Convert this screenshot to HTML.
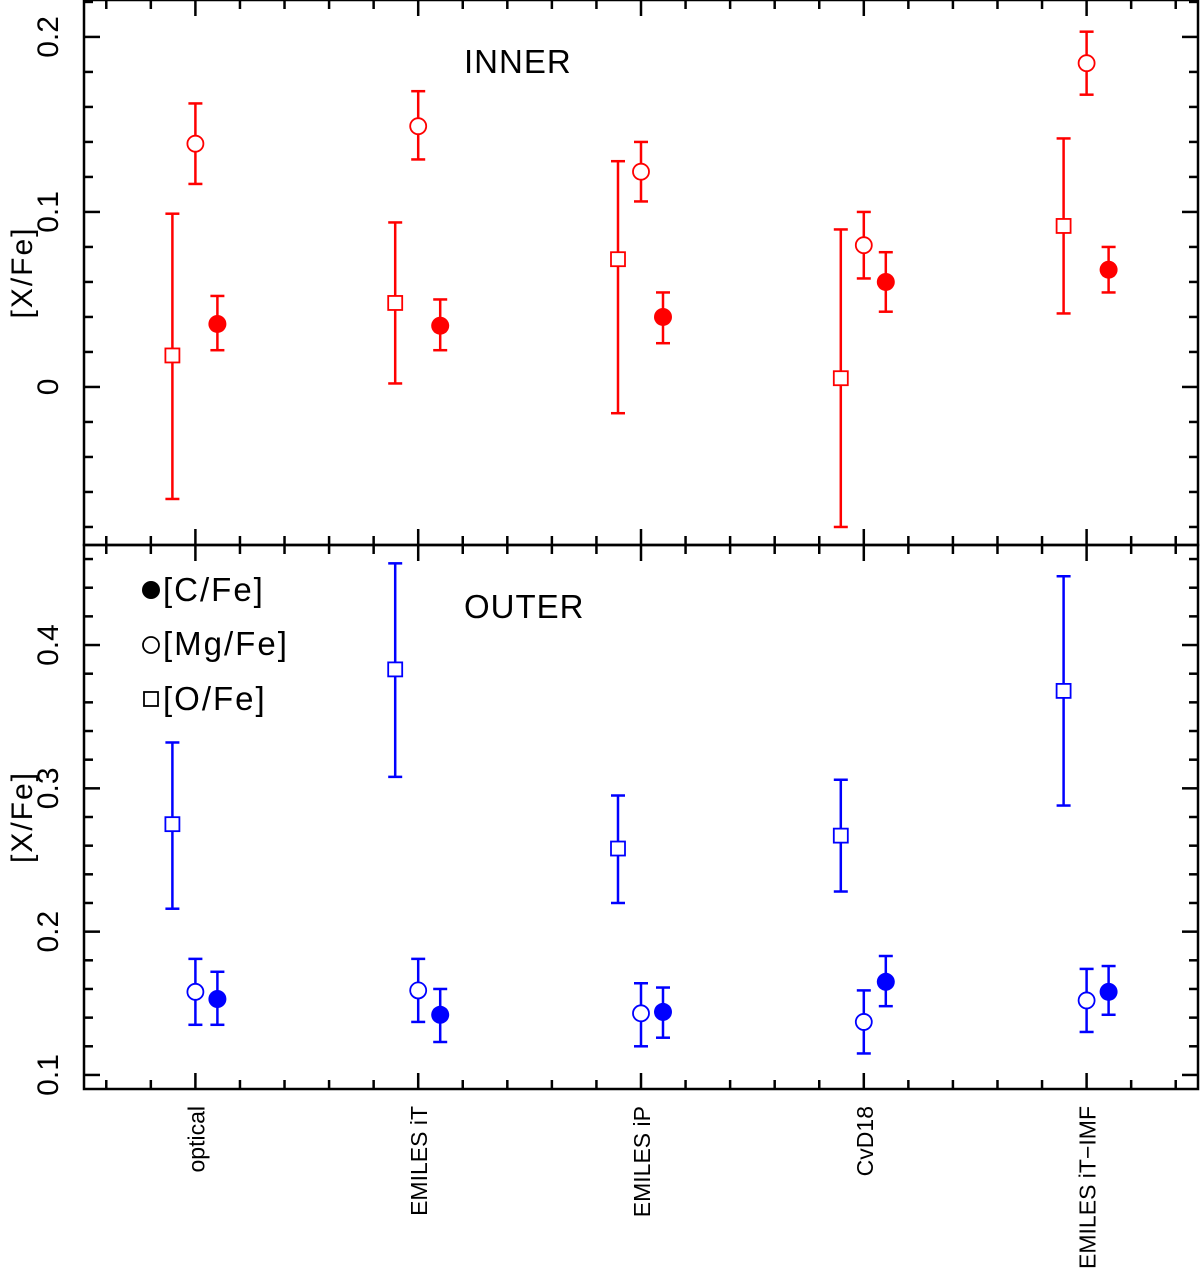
<!DOCTYPE html>
<html><head><meta charset="utf-8"><style>
html,body{margin:0;padding:0;background:#fff;}
svg{display:block;font-family:"Liberation Sans",sans-serif;}
</style></head><body>
<svg id="chart" width="1200" height="1273" viewBox="0 0 1200 1273"></svg>
<script>
const categories=["optical","EMILES iT","EMILES iP","CvD18","EMILES iT−IMF"];
// inner panel
const innerO=[0.018,0.048,0.073,0.005,0.092];
const innerOlo=[-0.064,0.002,-0.015,-0.080,0.042];
const innerOhi=[0.099,0.094,0.129,0.090,0.142];
const innerMg=[0.139,0.149,0.123,0.081,0.185];
const innerMglo=[0.116,0.130,0.106,0.062,0.167];
const innerMghi=[0.162,0.169,0.140,0.100,0.203];
const innerC=[0.036,0.035,0.040,0.060,0.067];
const innerClo=[0.021,0.021,0.025,0.043,0.054];
const innerChi=[0.052,0.050,0.054,0.077,0.080];
// outer panel
const outerO=[0.275,0.383,0.258,0.267,0.368];
const outerOlo=[0.216,0.308,0.220,0.228,0.288];
const outerOhi=[0.332,0.457,0.295,0.306,0.448];
const outerMg=[0.158,0.159,0.143,0.137,0.152];
const outerMglo=[0.135,0.137,0.120,0.115,0.130];
const outerMghi=[0.181,0.181,0.164,0.159,0.174];
const outerC=[0.153,0.142,0.144,0.165,0.158];
const outerClo=[0.135,0.123,0.126,0.148,0.142];
const outerChi=[0.172,0.160,0.161,0.183,0.176];
const innerTicks=["0","0.1","0.2"];
const outerTicks=["0.1","0.2","0.3","0.4"];

const NS="http://www.w3.org/2000/svg";
const svg=document.getElementById('chart');
const L=84,R=1198;
function el(tag,attrs,parent){const e=document.createElementNS(NS,tag);for(const k in attrs)e.setAttribute(k,attrs[k]);(parent||svg).appendChild(e);return e;}
function xs(v){return L+(v-0.5)*(R-L)/5;}
const panels=[
 {name:'inner',top:0,bot:545,ymin:-0.0903,ymax:0.2211,ticks:innerTicks,color:'#ff0000',title:'INNER',
  O:innerO,Olo:innerOlo,Ohi:innerOhi,Mg:innerMg,Mglo:innerMglo,Mghi:innerMghi,C:innerC,Clo:innerClo,Chi:innerChi},
 {name:'outer',top:545,bot:1089,ymin:0.0902,ymax:0.4698,ticks:outerTicks,color:'#0000ff',title:'OUTER',
  O:outerO,Olo:outerOlo,Ohi:outerOhi,Mg:outerMg,Mglo:outerMglo,Mghi:outerMghi,C:outerC,Clo:outerClo,Chi:outerChi}
];
panels.forEach(p=>{
  const ys=v=>p.bot-(v-p.ymin)/(p.ymax-p.ymin)*(p.bot-p.top);
  const g=el('g',{});
  
  
  const fr=el('rect',{x:L,y:p.top,width:R-L,height:p.bot-p.top,fill:'none',stroke:'#000','stroke-width':2.5},g);
  
  
  for(let k=0;k<25;k++){
    const v=0.6+k*0.2;const x=xs(v);
    const major=Math.abs(v-Math.round(v))<1e-6;const len=major?16:9;
    el('line',{x1:x,x2:x,y1:p.bot,y2:p.bot-len,stroke:'#000','stroke-width':2.5},g);
    el('line',{x1:x,x2:x,y1:p.top,y2:p.top+len,stroke:'#000','stroke-width':2.5},g);
  }
  for(let v=Math.ceil(p.ymin/0.02)*0.02;v<=p.ymax;v+=0.02){
    const y=ys(v);const major=Math.abs(v/0.1-Math.round(v/0.1))<1e-6;const len=major?16:9;
    el('line',{x1:L,x2:L+len,y1:y,y2:y,stroke:'#000','stroke-width':2.5},g);
    el('line',{x1:R,x2:R-len,y1:y,y2:y,stroke:'#000','stroke-width':2.5},g);
  }
  p.ticks.forEach(t=>{
    const y=ys(parseFloat(t));
    const tx=el('text',{x:0,y:0,transform:`translate(58,${y}) rotate(-90)`,'text-anchor':'middle','font-size':30},g);
    tx.textContent=t;
    
    
  });
  const yt=el('text',{x:0,y:0,transform:`translate(32,${(p.top+p.bot)/2}) rotate(-90)`,'text-anchor':'middle','font-size':30,'letter-spacing':2},g);
  yt.textContent='[X/Fe]';
  
  
  const tt=el('text',{x:464,y:p.top+73,'font-size':33,'letter-spacing':1},g);
  tt.textContent=p.title;
  
  
  function errbar(x,lo,hi){
    el('line',{x1:x,x2:x,y1:ys(lo),y2:ys(hi),stroke:p.color,'stroke-width':2.5},g);
    el('line',{x1:x-7,x2:x+7,y1:ys(lo),y2:ys(lo),stroke:p.color,'stroke-width':2.5},g);
    el('line',{x1:x-7,x2:x+7,y1:ys(hi),y2:ys(hi),stroke:p.color,'stroke-width':2.5},g);
  }
  categories.forEach((c,i)=>{
    const xc=xs(i+1);
    let x=xc-23; errbar(x,p.Olo[i],p.Ohi[i]);
    const sq=el('rect',{x:x-7,y:ys(p.O[i])-7,width:14,height:14,fill:'#fff',stroke:p.color,'stroke-width':1.8},g);
    
    
    x=xc; errbar(x,p.Mglo[i],p.Mghi[i]);
    const ci=el('circle',{cx:x,cy:ys(p.Mg[i]),r:8,fill:'#fff',stroke:p.color,'stroke-width':1.8},g);
    
    
    x=xc+22; errbar(x,p.Clo[i],p.Chi[i]);
    const fc=el('circle',{cx:x,cy:ys(p.C[i]),r:9,fill:p.color},g);
    
    
  });
});
categories.forEach((c,i)=>{
  const t=el('text',{x:0,y:0,transform:`translate(${xs(i+1)+9},1106) rotate(-90)`,'text-anchor':'end','font-size':23});
  t.textContent=c;
  
  
});
const lg=el('g',{});


el('circle',{cx:151,cy:590,r:9,fill:'#000'},lg);
el('circle',{cx:151,cy:645,r:8,fill:'#fff',stroke:'#000','stroke-width':1.8},lg);
el('rect',{x:144,y:692,width:14,height:14,fill:'#fff',stroke:'#000','stroke-width':1.8},lg);
[["[C/Fe]",601],["[Mg/Fe]",655],["[O/Fe]",710]].forEach(a=>{
  const t=el('text',{x:163,y:a[1],'font-size':33,'letter-spacing':2},lg);
  t.textContent=a[0];
  
  
});
</script>
</body></html>
